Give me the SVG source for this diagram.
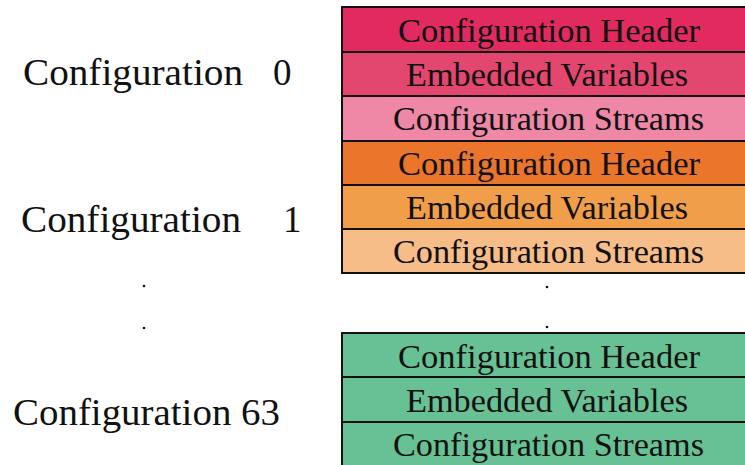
<svg xmlns="http://www.w3.org/2000/svg" width="745" height="465" viewBox="0 0 745 465">
<style>
.cell{stroke:#111;stroke-width:2}
.t{font-family:"Liberation Serif","Times New Roman",serif;font-size:34px;fill:#111;text-anchor:middle}
.lbl{font-family:"Liberation Serif","Times New Roman",serif;font-size:37px;fill:#111}
.dot{fill:#111}
</style>
<rect width="745" height="465" fill="#fff"/>
<g id="config0-label"><text class="lbl" x="23" y="85"><tspan textLength="220" lengthAdjust="spacingAndGlyphs">Configuration</tspan><tspan x="273">0</tspan></text></g>
<g id="config1-label"><text class="lbl" x="21" y="232"><tspan textLength="220" lengthAdjust="spacingAndGlyphs">Configuration</tspan><tspan x="283">1</tspan></text></g>
<g id="config63-label"><text class="lbl" x="13" y="425" textLength="267" lengthAdjust="spacingAndGlyphs">Configuration 63</text></g>
<g id="dots-left"><circle class="dot" cx="144" cy="286" r="1.3"/><circle class="dot" cx="144" cy="328" r="1.3"/></g>
<g id="dots-right"><circle class="dot" cx="547" cy="287" r="1.3"/><circle class="dot" cx="547" cy="327" r="1.3"/></g>
<g id="config0">
<rect class="cell" x="342" y="7" width="414" height="45" fill="#E02A60"/>
<text class="t" x="549" y="42" textLength="302" lengthAdjust="spacingAndGlyphs">Configuration Header</text>
<rect class="cell" x="342" y="52" width="414" height="44" fill="#E3466F"/>
<text class="t" x="547" y="86" textLength="282" lengthAdjust="spacingAndGlyphs">Embedded Variables</text>
<rect class="cell" x="342" y="96" width="414" height="45" fill="#EE88A6"/>
<text class="t" x="548.5" y="130" textLength="311" lengthAdjust="spacingAndGlyphs">Configuration Streams</text>
</g>
<g id="config1">
<rect class="cell" x="342" y="141" width="414" height="44" fill="#EA752B"/>
<text class="t" x="549" y="175" textLength="302" lengthAdjust="spacingAndGlyphs">Configuration Header</text>
<rect class="cell" x="342" y="185" width="414" height="44" fill="#F09E49"/>
<text class="t" x="547" y="219" textLength="282" lengthAdjust="spacingAndGlyphs">Embedded Variables</text>
<rect class="cell" x="342" y="229" width="414" height="44" fill="#F6BD88"/>
<text class="t" x="548.5" y="263" textLength="311" lengthAdjust="spacingAndGlyphs">Configuration Streams</text>
</g>
<g id="config63">
<rect class="cell" x="342" y="333" width="414" height="44" fill="#67C194"/>
<text class="t" x="549" y="368" textLength="302" lengthAdjust="spacingAndGlyphs">Configuration Header</text>
<rect class="cell" x="342" y="377" width="414" height="45" fill="#67C194"/>
<text class="t" x="547" y="412" textLength="282" lengthAdjust="spacingAndGlyphs">Embedded Variables</text>
<rect class="cell" x="342" y="422" width="414" height="45" fill="#67C194"/>
<text class="t" x="548.5" y="456" textLength="311" lengthAdjust="spacingAndGlyphs">Configuration Streams</text>
</g>
<g id="connectors"></g>
</svg>
